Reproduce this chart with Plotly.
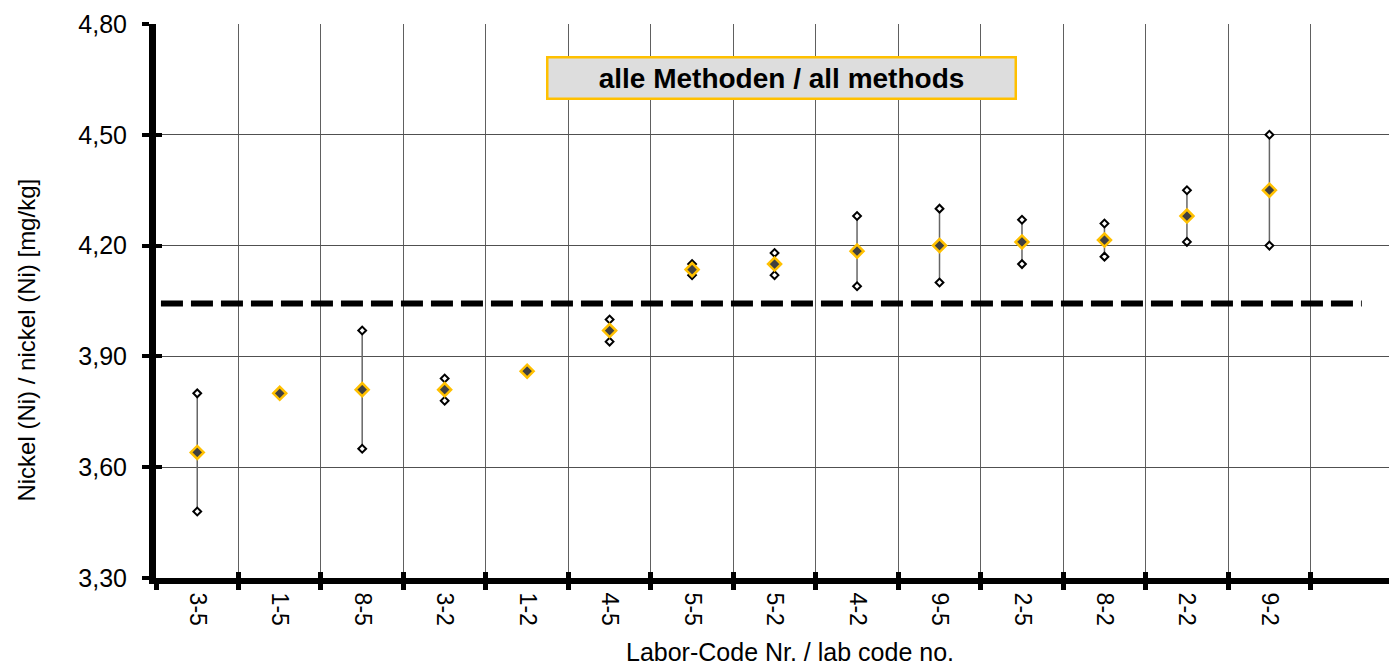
import plotly.graph_objects as go

# ---- data ----
labs = ["3-5", "1-5", "8-5", "3-2", "1-2", "4-5", "5-5", "5-2", "4-2", "9-5", "2-5", "8-2", "2-2", "9-2"]
mean_vals = [3.64, 3.80, 3.81, 3.81, 3.86, 3.97, 4.135, 4.15, 4.185, 4.20, 4.21, 4.215, 4.28, 4.35]
low_vals = [3.48, 3.80, 3.65, 3.78, 3.86, 3.94, 4.12, 4.12, 4.09, 4.10, 4.15, 4.17, 4.21, 4.20]
high_vals = [3.80, 3.80, 3.97, 3.84, 3.86, 4.00, 4.15, 4.18, 4.28, 4.30, 4.27, 4.26, 4.35, 4.50]
assigned_value = 4.043
y_ticks = [3.30, 3.60, 3.90, 4.20, 4.50, 4.80]
title_text = "alle Methoden / all methods"
x_title = "Labor-Code Nr. / lab code no."
y_title = "Nickel (Ni) / nickel (Ni) [mg/kg]"

FONT = "Arial, Liberation Sans, sans-serif"
GOLD = "#FFC000"
n = len(labs)

fig = go.Figure()

# error ranges (low..high)
fig.add_trace(go.Scatter(
    x=labs, y=mean_vals, mode="markers",
    marker=dict(size=1, color="rgba(0,0,0,0)"),
    error_y=dict(type="data", symmetric=False,
                 array=[h - m for h, m in zip(high_vals, mean_vals)],
                 arrayminus=[m - l for m, l in zip(mean_vals, low_vals)],
                 color="#666666", thickness=1.5, width=0),
    showlegend=False, hoverinfo="skip"))

# low / high markers
fig.add_trace(go.Scatter(
    x=labs + labs, y=low_vals + high_vals, mode="markers",
    marker=dict(symbol="diamond", size=6, color="white",
                line=dict(color="black", width=2)),
    showlegend=False))

# mean markers
fig.add_trace(go.Scatter(
    x=labs, y=mean_vals, mode="markers",
    marker=dict(symbol="diamond", size=10, color="#404040",
                line=dict(color=GOLD, width=2.5)),
    showlegend=False))

# dummy trace for overlay axes (inner tick halves)
fig.add_trace(go.Scatter(x=[None], y=[None], xaxis="x2", yaxis="y2",
                         showlegend=False, hoverinfo="skip"))

# assigned value dashed line
fig.add_shape(type="line", xref="x", yref="y",
              x0=-0.44, x1=n + 0.12, y0=assigned_value, y1=assigned_value,
              line=dict(color="black", width=6, dash="22px,8px"), layer="above")

fig.update_layout(
    width=1389, height=666,
    margin=dict(l=156, r=0, t=24, b=88),
    paper_bgcolor="white", plot_bgcolor="white",
    separators=",.",
    font=dict(family=FONT, color="black"),
    xaxis=dict(
        type="category", categoryorder="array", categoryarray=labs,
        range=[-0.5, n + 0.45],
        tickson="boundaries", ticks="outside", ticklen=6, tickwidth=5, tickcolor="black",
        showgrid=True, gridcolor="#606060", gridwidth=1,
        showline=True, linecolor="black", linewidth=6,
        tickangle=90, tickfont=dict(size=23, family=FONT, color="black"),
        ticklabelstandoff=4,
        zeroline=False, fixedrange=True,
    ),
    yaxis=dict(
        range=[3.30, 4.80], tickvals=y_ticks, tickformat=".2f",
        ticks="outside", ticklen=7, tickwidth=4, tickcolor="black",
        showgrid=True, gridcolor="#505050", gridwidth=1,
        showline=True, linecolor="black", linewidth=7,
        tickfont=dict(size=25, family=FONT, color="black"),
        ticklabelstandoff=10,
        zeroline=False, fixedrange=True,
    ),
    xaxis2=dict(
        overlaying="x", anchor="y", side="bottom",
        range=[-0.5, n + 0.45],
        tickvals=[i - 0.5 for i in range(n + 1)],
        ticks="inside", ticklen=6, tickwidth=5, tickcolor="black",
        showticklabels=False, showgrid=False, showline=False, zeroline=False,
    ),
    yaxis2=dict(
        overlaying="y", anchor="x", side="left",
        range=[3.30, 4.80], tickvals=y_ticks,
        ticks="inside", ticklen=6, tickwidth=4, tickcolor="black",
        showticklabels=False, showgrid=False, showline=False, zeroline=False,
    ),
    annotations=[
        dict(text="<b>" + title_text + "</b>", xref="paper", yref="paper",
             x=0.507, y=0.9034, xanchor="center", yanchor="middle", showarrow=False,
             font=dict(size=28, family=FONT, color="black"),
             bgcolor="#DDDDDD", bordercolor=GOLD, borderwidth=2.5, borderpad=4, width=458),
        dict(text=x_title, xref="paper", yref="paper",
             x=0.514, y=-0.1336, xanchor="center", yanchor="middle", showarrow=False,
             font=dict(size=25, family=FONT, color="black")),
        dict(text=y_title, xref="paper", yref="paper",
             x=-0.1058, y=0.4296, xanchor="center", yanchor="middle", showarrow=False,
             textangle=-90, font=dict(size=24, family=FONT, color="black")),
    ],
)

fig.write_html("out.html")
